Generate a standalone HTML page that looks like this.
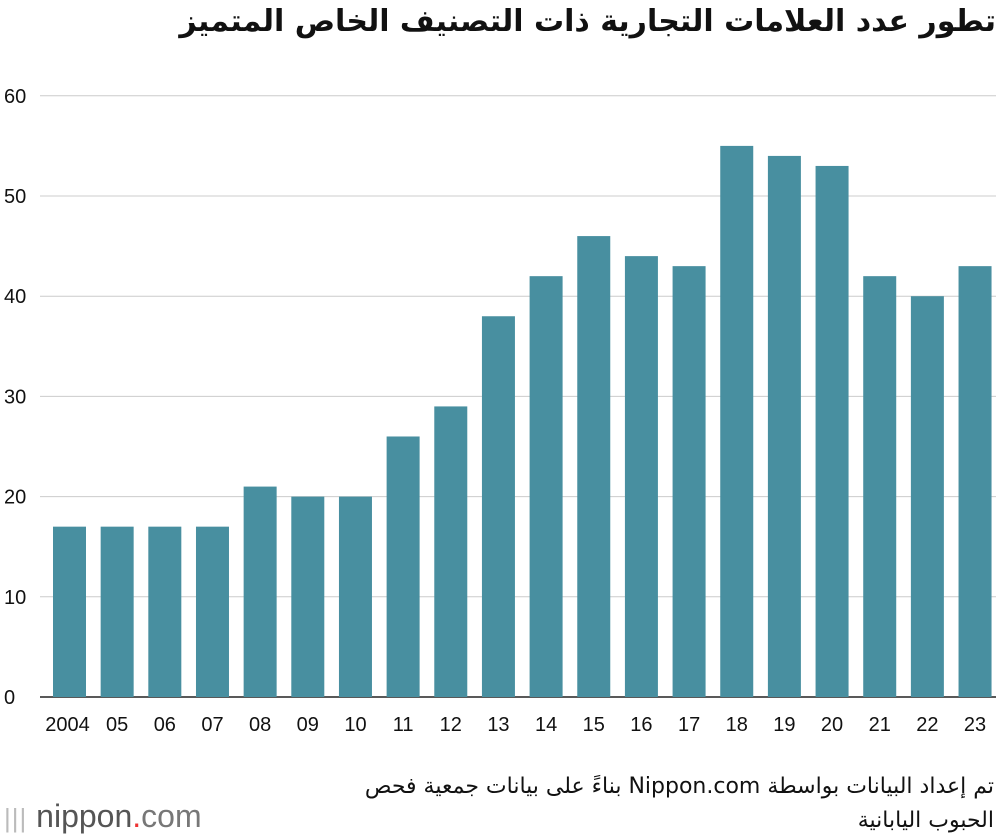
<!DOCTYPE html>
<html><head><meta charset="utf-8"><style>
body{margin:0;width:1000px;height:840px;background:#fff;overflow:hidden;font-family:"Liberation Sans","DejaVu Sans",sans-serif;}
#title{position:absolute;right:4px;top:4px;font-family:"DejaVu Sans",sans-serif;font-weight:bold;font-size:30px;direction:rtl;color:#111;white-space:nowrap;}
#src{position:absolute;right:6px;top:770px;width:680px;font-family:"DejaVu Sans",sans-serif;font-size:22px;line-height:34px;direction:rtl;text-align:right;color:#111;}
#logo{position:absolute;left:4px;top:798px;font-size:32px;color:#777;font-family:"Liberation Sans",sans-serif;}
</style></head><body>
<div id="title">تطور عدد العلامات التجارية ذات التصنيف الخاص المتميز</div>
<svg id="chart" width="1000" height="840" style="position:absolute;left:0;top:0"></svg>
<div id="src">تم إعداد البيانات بواسطة Nippon.com بناءً على بيانات جمعية فحص الحبوب اليابانية</div>
<div id="logo"><span style="letter-spacing:1px;color:#bbb;font-size:26px">|||</span> <span style="color:#555">nippon</span><span style="color:#e33">.</span>com</div>
<script>
const categories=["2004","05","06","07","08","09","10","11","12","13","14","15","16","17","18","19","20","21","22","23"];
const values=[17,17,17,17,21,20,20,26,29,38,42,46,44,43,55,54,53,42,40,43];
const yTicks=[0,10,20,30,40,50,60];
const svg=document.getElementById('chart');const NS='http://www.w3.org/2000/svg';
const y=v=>697-v*10.02;
const x=i=>69.5+i*47.66;
function mk(t,a){const e=document.createElementNS(NS,t);for(const k in a)e.setAttribute(k,a[k]);svg.appendChild(e);return e;}
yTicks.forEach(v=>{
 const l=mk('line',{x1:40,x2:996,y1:y(v),y2:y(v),stroke:v===0?'#222':'#ccc','stroke-width':v===0?1.5:1});
 
 
 const t=mk('text',{x:4,y:y(v)+7,'font-size':20,fill:'#111'});t.textContent=v;
 
 
});
values.forEach((v,i)=>{
 const r=mk('rect',{x:x(i)-16.5,y:y(v),width:33,height:697-y(v),fill:'#488fa0'});
 
 
 const t=mk('text',{x:x(i)+(i===0?-2:0),y:731,'font-size':20,fill:'#111','text-anchor':'middle'});t.textContent=categories[i];
 
 
});
</script>
</body></html>
